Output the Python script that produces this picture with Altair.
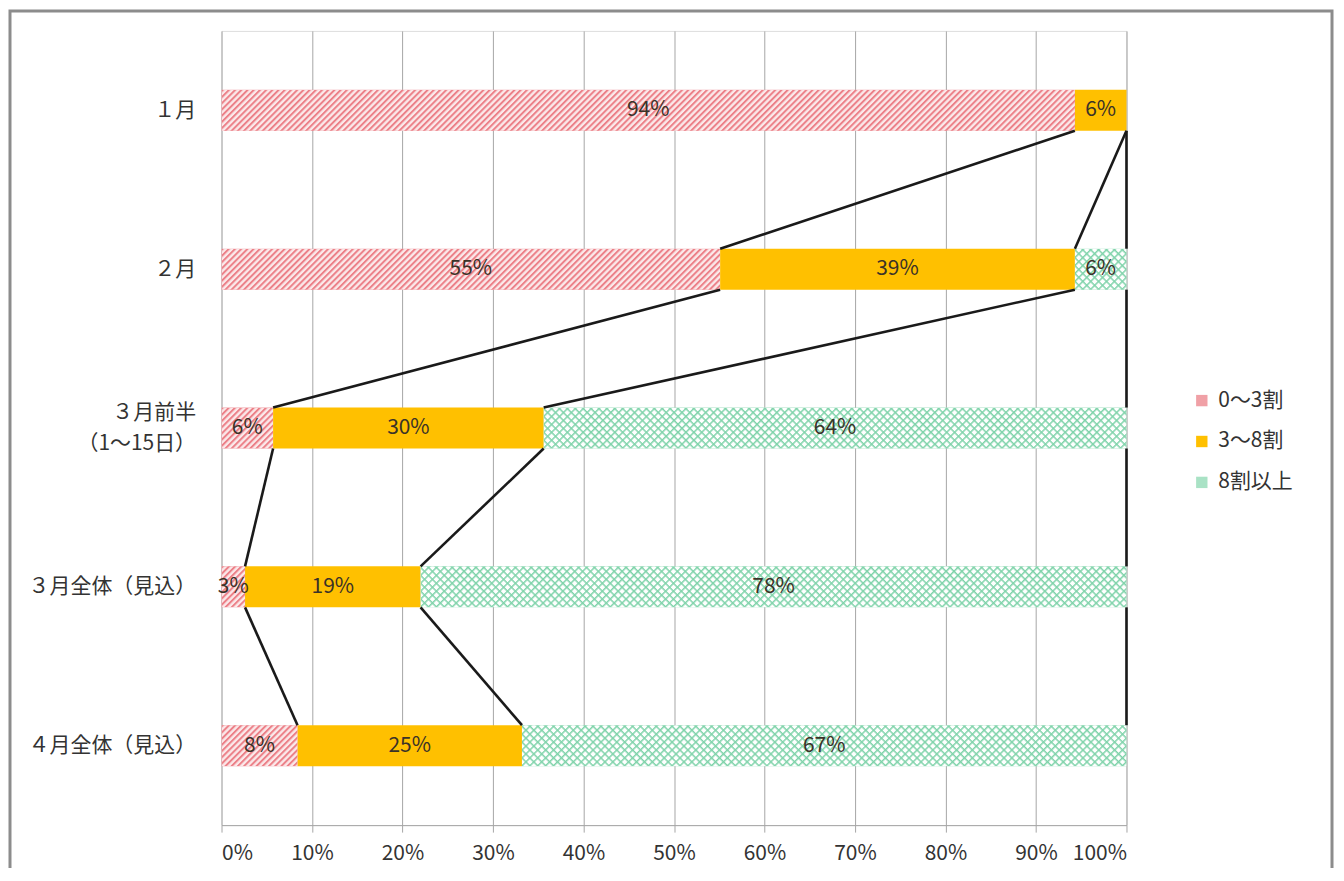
import json
import base64
import altair as alt
import pandas as pd

# ---------------- data ----------------
categories = ["１月", "２月", "３月前半（1～15日）", "３月全体（見込）", "４月全体（見込）"]
category_lines = [["１月"], ["２月"], ["３月前半", "（1～15日）"], ["３月全体（見込）"], ["４月全体（見込）"]]
series = ["0～3割", "3～8割", "8割以上"]
low = [94.3, 55.1, 5.7, 2.6, 8.4]
mid = [5.7, 39.2, 29.9, 19.4, 24.8]
high = [0.0, 5.7, 64.4, 78.0, 66.8]
x_ticks = [0, 10, 20, 30, 40, 50, 60, 70, 80, 90, 100]

# ---------------- styles ----------------
FONT = "Noto Sans CJK JP"
FS = 21
LINE_H = 32
HALF = 0.129  # half bar thickness in category units
ORANGE = "#FFC000"
PINK_FALLBACK = "#F0A0A6"
GREEN_FALLBACK = "#A9E2C5"


def svg_uri(svg):
    return "data:image/svg+xml;base64," + base64.b64encode(svg.encode("utf-8")).decode("ascii")


red_hatch = svg_uri(
    '<svg xmlns="http://www.w3.org/2000/svg"><defs>'
    '<pattern id="h" width="4.4" height="4.4" patternUnits="userSpaceOnUse" patternTransform="rotate(45)">'
    '<rect width="4.4" height="4.4" fill="#FBE9EA"/><rect width="2.0" height="4.4" fill="#EC8088"/>'
    '</pattern></defs><rect width="100%" height="100%" fill="url(#h)"/></svg>'
)
green_hatch = svg_uri(
    '<svg xmlns="http://www.w3.org/2000/svg"><defs>'
    '<pattern id="g" width="5.6" height="5.6" patternUnits="userSpaceOnUse" patternTransform="rotate(45)">'
    '<rect width="5.6" height="5.6" fill="#FFFFFF"/>'
    '<rect width="1.5" height="5.6" fill="#7FD3AA"/><rect width="5.6" height="1.5" fill="#7FD3AA"/>'
    '</pattern></defs><rect width="100%" height="100%" fill="url(#g)"/></svg>'
)
hatch_urls = {series[0]: red_hatch, series[2]: green_hatch}

# ---------------- tables ----------------
rows = []
ends = []
for i, cat in enumerate(categories):
    vals = [low[i], mid[i], high[i]]
    start = 0.0
    cat_ends = []
    for k, s in enumerate(series):
        end = start + vals[k]
        rows.append({
            "cat": cat, "idx": i, "series": s, "value": vals[k],
            "start": start, "end": end, "mid": (start + end) / 2,
            "top": i - HALF, "bot": i + HALF,
            "label": f"{int(round(vals[k]))}%" if vals[k] > 0 else "",
            "url": hatch_urls.get(s, ""),
        })
        cat_ends.append(end)
        start = end
    ends.append(cat_ends)
bars = pd.DataFrame(rows)

conn = []
for i in range(len(categories) - 1):
    for k in range(len(series)):
        conn.append({"x": ends[i][k], "x2": ends[i + 1][k], "y": i + HALF, "y2": i + 1 - HALF})
conn = pd.DataFrame(conn)

# label offset so that multi-line category labels are centred on their bar
multi = [i for i, ln in enumerate(category_lines) if len(ln) > 1]
offset_expr = " : ".join(
    [f"round(datum.value) == {i} ? {-(len(category_lines[i]) - 1) * LINE_H / 2}" for i in multi] + ["0"]
)

# ---------------- scales ----------------
x_scale = alt.Scale(domain=[0, 100], nice=False, zero=True)
y_scale = alt.Scale(domain=[-0.5, 4.5], reverse=True, nice=False, zero=False)

x_axis = alt.Axis(
    values=x_ticks, labelExpr="datum.value + '%'", title=None,
    grid=True, gridColor="#A6A6A6", gridWidth=1,
    domainColor="#A6A6A6", tickColor="#A6A6A6", tickSize=7,
    labelFont=FONT, labelFontSize=FS, labelColor="#333333", labelPadding=10,
)
y_axis = alt.Axis(
    values=list(range(len(categories))),
    labelExpr=json.dumps(category_lines, ensure_ascii=False) + "[round(datum.value)]",
    title=None, grid=False, domain=False, ticks=False,
    labelFont=FONT, labelFontSize=FS, labelColor="#333333", labelPadding=26,
    labelLineHeight=LINE_H,
    labelOffset={"condition": {"test": f"round(datum.value) == {multi[0]}",
                               "value": -(len(category_lines[multi[0]]) - 1) * LINE_H / 2},
                 "value": 0},
)

base = alt.Chart(bars)

fallback = base.mark_bar(strokeWidth=0).encode(
    x=alt.X("start:Q", scale=x_scale, axis=x_axis),
    x2="end:Q",
    y=alt.Y("top:Q", scale=y_scale, axis=y_axis),
    y2="bot:Q",
    color=alt.Color(
        "series:N",
        scale=alt.Scale(domain=series, range=[PINK_FALLBACK, ORANGE, GREEN_FALLBACK]),
        sort=series,
        legend=alt.Legend(
            title=None, orient="none", legendX=972, legendY=360,
            symbolType="square", symbolSize=130, symbolStrokeWidth=0,
            labelFont=FONT, labelFontSize=FS, labelColor="#333333",
            rowPadding=19, labelOffset=6, padding=0,
        ),
    ),
)

hatches = base.transform_filter("datum.url != ''").mark_image(aspect=False).encode(
    x=alt.X("start:Q", scale=x_scale), x2="end:Q",
    y=alt.Y("top:Q", scale=y_scale), y2="bot:Q",
    url="url:N",
)

lines = alt.Chart(conn).mark_rule(color="#1A1A1A", strokeWidth=2.6).encode(
    x=alt.X("x:Q", scale=x_scale), x2="x2:Q",
    y=alt.Y("y:Q", scale=y_scale), y2="y2:Q",
)

labels = base.transform_filter("datum.value > 0").mark_text(
    font=FONT, fontSize=FS, color="#3A3228", align="center", baseline="middle"
).encode(
    x=alt.X("mid:Q", scale=x_scale),
    y=alt.Y("idx:Q", scale=y_scale),
    text="label:N",
)

frame = alt.Chart(pd.DataFrame({"f": [0]})).mark_rect(
    fill="transparent", stroke="#8C8C8C", strokeWidth=3
).encode(
    x=alt.value(-212), x2=alt.value(1113), y=alt.value(-20), y2=alt.value(880),
)

chart = alt.layer(fallback, hatches, lines, labels, frame).properties(
    width=907, height=796,
    autosize=alt.AutoSizeParams(type="none"),
    padding={"left": 214, "top": 22, "right": 210, "bottom": 42},
).configure_view(stroke=None).configure(background="white")

chart.save("out.html", embed_options={"renderer": "svg", "actions": False})
